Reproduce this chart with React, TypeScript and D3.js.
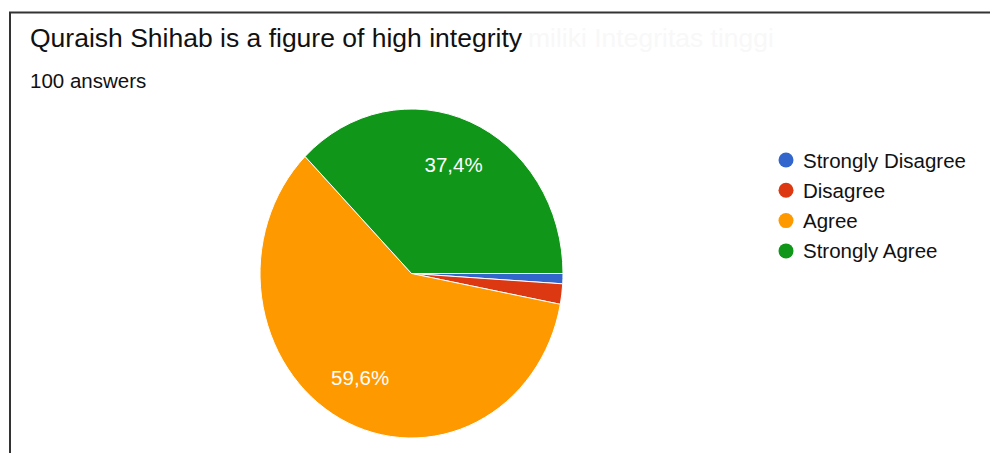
import React from "react";
import * as d3 from "d3";

const categories = ["Strongly Disagree", "Disagree", "Agree", "Strongly Agree"];
const values = [1, 2, 59.6, 37.4];
const labels = ["", "", "59,6%", "37,4%"];
const colors = ["#3366cc", "#dc3912", "#ff9900", "#109618"];
const title = "Quraish Shihab is a figure of high integrity";
const subtitle = "100 answers";
const ghostTitle = "miliki Integritas tinggi";

const W = 990;
const H = 453;
const cx = 411.5;
const cy = 273.5;
const rx = 151.5;
const ry = 164.5;

export default function App() {
  const pie = d3
    .pie<number>()
    .sort(null)
    .startAngle(Math.PI / 2)
    .endAngle(Math.PI / 2 + 2 * Math.PI);
  const arcs = pie(values);
  const arc = d3.arc<d3.PieArcDatum<number>>().innerRadius(0).outerRadius(rx);
  const sy = ry / rx;
  const labelArc = d3
    .arc<d3.PieArcDatum<number>>()
    .innerRadius(rx * 0.72)
    .outerRadius(rx * 0.72);
  const font = "'Liberation Sans', Arial, sans-serif";

  return (
    <svg
      width={W}
      height={H}
      style={{ position: "absolute", left: 0, top: 0, display: "block", background: "#fff" }}
      fontFamily={font}
    >
      <rect x={0} y={0} width={W} height={H} fill="#fff" />
      <path d={`M${W},12.5 H10 V${H}`} fill="none" stroke="#333" strokeWidth={2} />
      <text x={528} y={47} fontSize={26.5} fill="#f8f8f8">
        {ghostTitle}
      </text>
      <text x={30} y={47} fontSize={26.5} fill="#111">
        {title}
      </text>
      <text x={30} y={88} fontSize={20.5} fill="#111">
        {subtitle}
      </text>
      <g transform={`translate(${cx},${cy}) scale(1,${sy})`}>
        {arcs.map((a, i) => (
          <path
            key={categories[i]}
            d={arc(a) || ""}
            fill={colors[i]}
            stroke="#fff"
            strokeWidth={1}
            vectorEffect="non-scaling-stroke"
          />
        ))}
      </g>
      {arcs.map((a, i) => {
        if (!labels[i]) return null;
        const [lx, ly] = labelArc.centroid(a);
        return (
          <text
            key={"l" + i}
            x={cx + lx}
            y={cy + ly * sy}
            textAnchor="middle"
            dominantBaseline="central"
            fill="#fff"
            fontSize={20.5}
          >
            {labels[i]}
          </text>
        );
      })}
      {categories.map((c, i) => (
        <g key={"lg" + i} transform={`translate(786,${160 + i * 30.3})`}>
          <circle r={7.5} fill={colors[i]} />
          <text x={17} y={0} dominantBaseline="central" fontSize={20.5} fill="#111">
            {c}
          </text>
        </g>
      ))}
    </svg>
  );
}
